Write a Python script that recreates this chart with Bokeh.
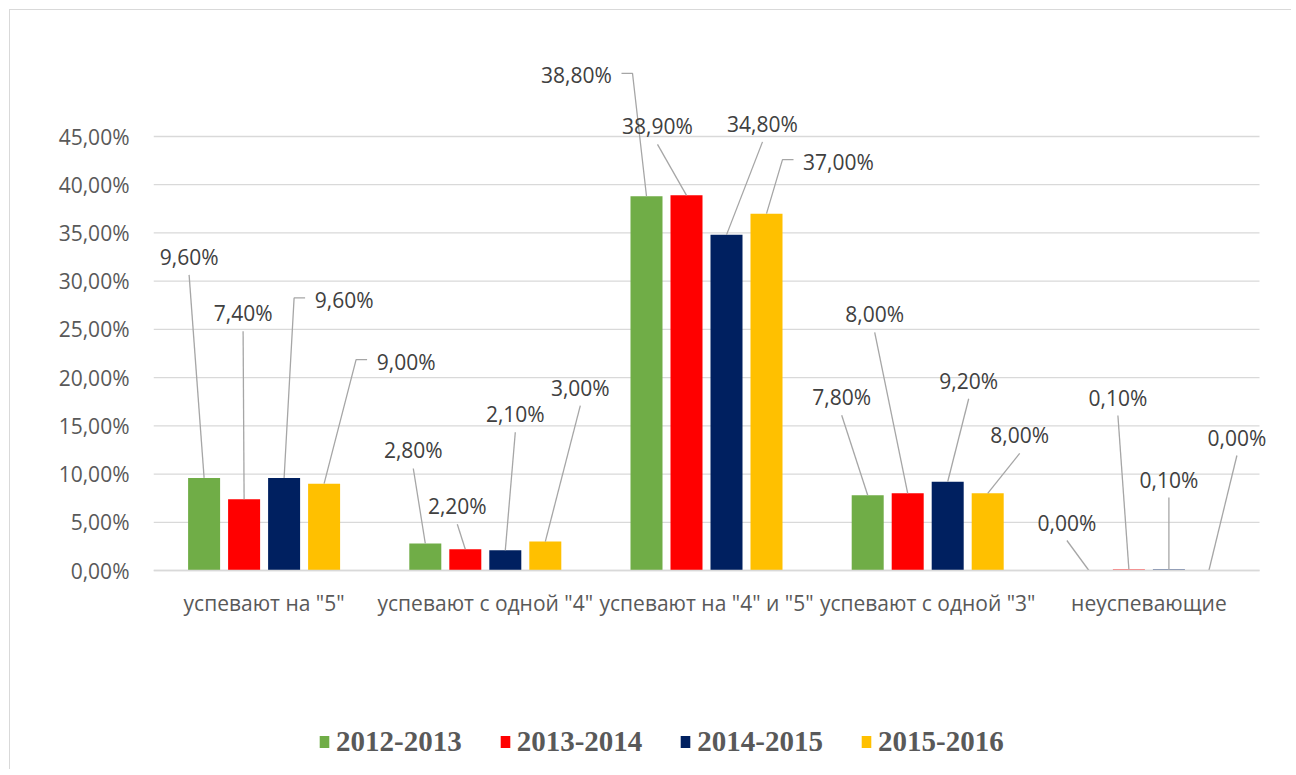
from bokeh.plotting import figure
from bokeh.models import Range1d, FixedTicker, Legend, LegendItem
from bokeh.core.properties import value
from bokeh.embed import file_html
from bokeh.resources import INLINE

# ---------------- data ----------------
categories = ['успевают на "5"', 'успевают с одной "4"', 'успевают на "4" и "5"',
              'успевают с одной "3"', 'неуспевающие']
series_names = ["2012-2013", "2013-2014", "2014-2015", "2015-2016"]
v2012_2013 = [9.60, 2.80, 38.80, 7.80, 0.00]
v2013_2014 = [7.40, 2.20, 38.90, 8.00, 0.10]
v2014_2015 = [9.60, 2.10, 34.80, 9.20, 0.10]
v2015_2016 = [9.00, 3.00, 37.00, 8.00, 0.00]
y_ticks = [0, 5, 10, 15, 20, 25, 30, 35, 40, 45]

# ---------------- styles / layout ----------------
colors = ["#70ad47", "#ff0000", "#002060", "#ffc000"]
series_values = [v2012_2013, v2013_2014, v2014_2015, v2015_2016]

# label placement (pixel offsets from bar top to label centre), leader style
label_dx = [[-15, -12, -70, -26, -22],
            [-1, -8, -29, -33, -11],
            [60, 10, 36, 21, 0],
            [82, 35, 72, 32, 28]]
label_up = [[221, 93, 121, 98, 48],
            [186, 43, 69, 179, 172],
            [178, 136, 111, 101, 90],
            [122, 154, 52, 58, 133]]
leader_side = [[0, 0, 1, 0, 0],
               [0, 0, 0, 0, 0],
               [-1, 0, 0, 0, 0],
               [-1, 0, -1, 0, 0]]

W, H = 1282, 760
FRAME_L, FRAME_T = 143, 30          # frame spans to the right/bottom edges
ZERO_Y = 560                        # pixel row of the 0 % line inside the figure
PLOT_W = 1106                       # width of the category area in pixels
Y_PX = 434.0 / 45.0                 # pixels per percent
X_PX = PLOT_W / 5.0                 # pixels per category
y_end = (ZERO_Y - FRAME_T) / Y_PX
y_start = -(H - ZERO_Y) / Y_PX
x_end = (W - FRAME_L) / X_PX

bar_w = 32 / X_PX
pitch = 40 / X_PX
offsets = [-1.5 * pitch, -0.5 * pitch, 0.5 * pitch, 1.5 * pitch]

p = figure(width=W, height=H, output_backend="svg", toolbar_location=None,
           x_range=Range1d(0, x_end), y_range=Range1d(y_start, y_end),
           min_border_left=FRAME_L, min_border_right=0,
           min_border_top=FRAME_T, min_border_bottom=0,
           background_fill_color="white", border_fill_color="white",
           styles={"margin-left": "9px", "margin-top": "9px",
                   "border-top": "1px solid #d9d9d9", "border-left": "1px solid #d9d9d9"})
p.outline_line_color = None

GRID = "#d9d9d9"
AXIS_TXT = "#595959"
LABEL_TXT = "#404040"
FONT = "Open Sans"
FS = "21px"

# y axis
p.yaxis.ticker = FixedTicker(ticks=y_ticks)
p.yaxis.major_label_overrides = {t: ("%.2f%%" % t).replace(".", ",") for t in y_ticks}
p.yaxis.axis_line_color = None
p.yaxis.major_tick_line_color = None
p.yaxis.minor_tick_line_color = None
p.yaxis.major_tick_out = 0
p.yaxis.major_tick_in = 0
p.yaxis.major_label_standoff = 24
p.yaxis.major_label_text_font = FONT
p.yaxis.major_label_text_font_size = FS
p.yaxis.major_label_text_color = AXIS_TXT
p.ygrid.grid_line_color = None
p.xgrid.grid_line_color = None

# horizontal gridlines over the category area only
p.segment(x0=[0] * len(y_ticks), x1=[5] * len(y_ticks), y0=y_ticks, y1=y_ticks,
          line_color=GRID, line_width=1.3)

# x axis (at the 0 % line)
cat_x = [i + 0.5 for i in range(len(categories))]
p.xaxis.fixed_location = 0
p.xaxis.bounds = (0, 5)
p.xaxis.ticker = FixedTicker(ticks=cat_x)
p.xaxis.major_label_overrides = {x: c for x, c in zip(cat_x, categories)}
p.xaxis.axis_line_color = GRID
p.xaxis.axis_line_width = 1.3
p.xaxis.major_tick_line_color = None
p.xaxis.minor_tick_line_color = None
p.xaxis.major_tick_out = 0
p.xaxis.major_tick_in = 0
p.xaxis.major_label_standoff = 18
p.xaxis.major_label_text_font = FONT
p.xaxis.major_label_text_font_size = FS
p.xaxis.major_label_text_color = AXIS_TXT

items = []
for s, (name, vals, col) in enumerate(zip(series_names, series_values, colors)):
    xs = [c + offsets[s] for c in cat_x]
    r = p.vbar(x=xs, top=vals, width=bar_w, fill_color=col, line_color=None)
    items.append(LegendItem(label=name, renderers=[r]))

    # data labels and leader lines
    lx, ly, txt = [], [], []
    seg_xs, seg_ys = [], []
    for i, v in enumerate(vals):
        tx = xs[i] + label_dx[s][i] / X_PX
        ty = v + label_up[s][i] / Y_PX
        t = ("%.2f%%" % v).replace(".", ",")
        lx.append(tx); ly.append(ty); txt.append(t)
        side = leader_side[s][i]
        if side == 0:
            seg_xs.append([tx, xs[i]])
            seg_ys.append([ty - 18 / Y_PX, v])
        else:
            hw = 6.0 * len(t)
            sx0 = tx + side * (hw + 9) / X_PX
            sx1 = tx + side * (hw + 20) / X_PX
            sy = ty + 2 / Y_PX
            seg_xs.append([sx0, sx1, xs[i]])
            seg_ys.append([sy, sy, v])
    p.multi_line(xs=seg_xs, ys=seg_ys, line_color="#a6a6a6", line_width=1.3)
    p.text(x=lx, y=ly, text=txt, text_align="center", text_baseline="middle",
           text_font=value(FONT), text_font_size=FS, text_color=LABEL_TXT)

legend = Legend(items=items, orientation="horizontal", location=(165, 12))
legend.label_text_font = "Liberation Serif"
legend.label_text_font_style = "bold"
legend.label_text_font_size = "29px"
legend.label_text_color = AXIS_TXT
legend.glyph_width = 12
legend.glyph_height = 15
legend.label_standoff = 6
legend.spacing = 37
legend.padding = 0
legend.margin = 0
legend.border_line_color = None
legend.background_fill_alpha = 0
legend.label_height = 30
p.add_layout(legend)

open("out.html", "w").write(file_html(p, INLINE))
